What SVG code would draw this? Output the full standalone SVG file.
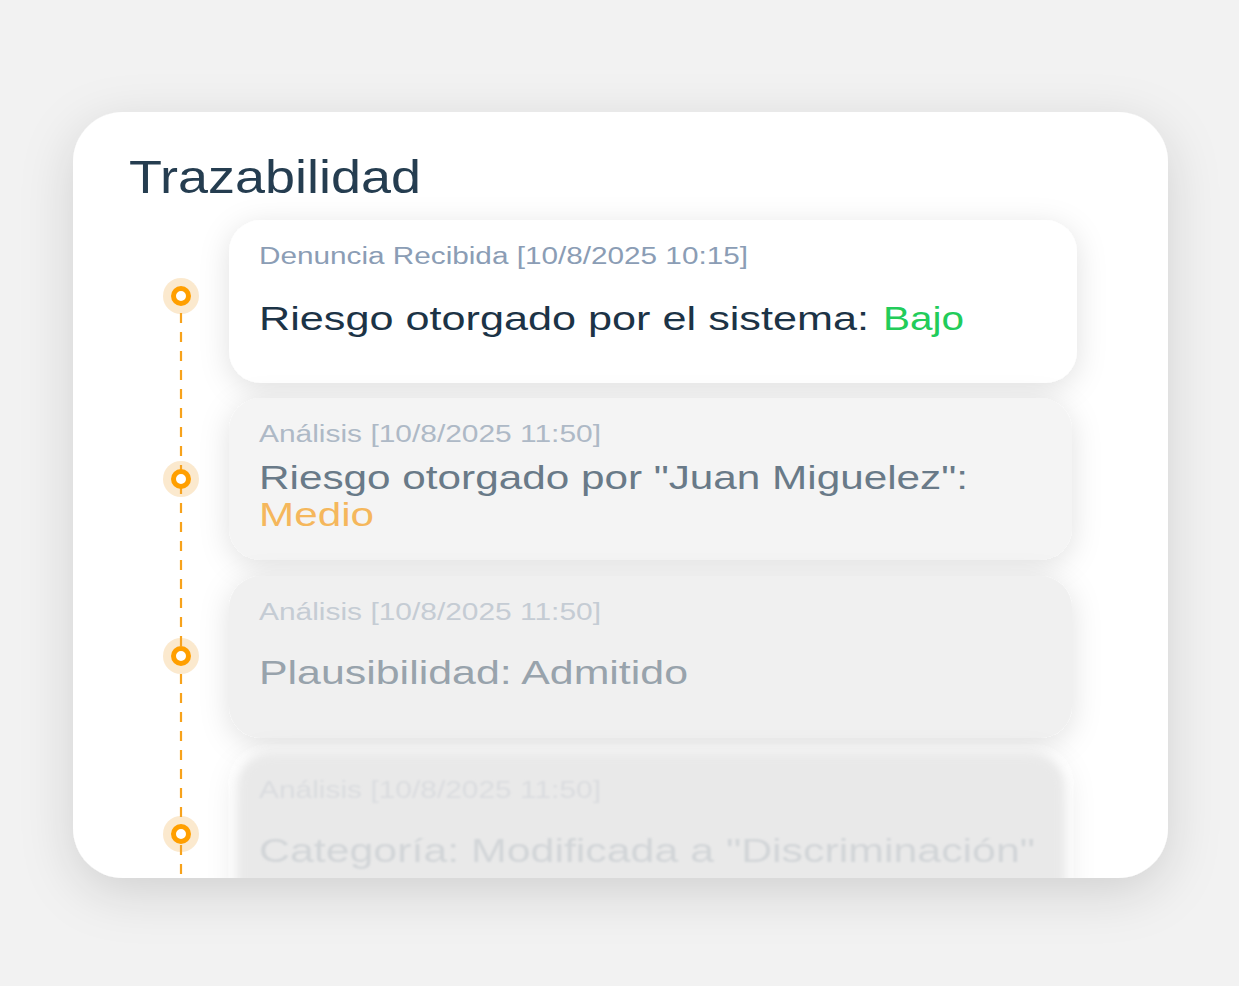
<svg xmlns="http://www.w3.org/2000/svg" width="1239" height="986" viewBox="0 0 1239 986">
  <style>
    .sans { font-family: "Liberation Sans", Arial, sans-serif; }
    .title { font-size: 46px; fill: #253d50; }
    .sub { font-size: 23px; }
    .main { font-size: 34px; }
  </style>
  <defs>
    <filter id="outerShadow" x="-20%" y="-20%" width="140%" height="150%">
      <feDropShadow dx="0" dy="14" stdDeviation="26" flood-color="#000" flood-opacity="0.14"/>
    </filter>
    <filter id="cardShadow" x="-15%" y="-40%" width="130%" height="190%">
      <feDropShadow dx="0" dy="6" stdDeviation="15" flood-color="#000" flood-opacity="0.12"/>
    </filter>
    <filter id="cardShadowBlur" x="-15%" y="-40%" width="130%" height="190%">
      <feGaussianBlur in="SourceGraphic" stdDeviation="4" result="b"/>
      <feDropShadow in="b" dx="0" dy="6" stdDeviation="15" flood-color="#000" flood-opacity="0.12"/>
    </filter>
    <filter id="textBlur" x="-5%" y="-50%" width="110%" height="200%">
      <feGaussianBlur stdDeviation="0.8"/>
    </filter>
    <clipPath id="panelClip">
      <rect x="73" y="112" width="1095" height="766" rx="50"/>
    </clipPath>
  </defs>

  <rect x="0" y="0" width="1239" height="986" fill="#f2f2f2"/>

  <g id="panel">
    <rect x="73" y="112" width="1095" height="766" rx="50" fill="#ffffff" filter="url(#outerShadow)"/>
    <text class="sans title" x="129" y="193" textLength="292" lengthAdjust="spacingAndGlyphs">Trazabilidad</text>
  </g>

  <g clip-path="url(#panelClip)">
    <g id="connectors">
      <line x1="181" y1="313" x2="181" y2="880" stroke="#f7a21b" stroke-width="2.2" stroke-dasharray="10 9"/>
    </g>

    <g id="card1">
      <rect x="229" y="220" width="848" height="163" rx="32" fill="#ffffff" filter="url(#cardShadow)"/>
      <text class="sans sub" x="259" y="264" fill="#8b9db5" textLength="489" lengthAdjust="spacingAndGlyphs">Denuncia Recibida [10/8/2025 10:15]</text>
      <text class="sans main" x="259" y="330" fill="#1c3346" textLength="610" lengthAdjust="spacingAndGlyphs">Riesgo otorgado por el sistema:</text>
      <text class="sans main" x="883" y="330" fill="#22cc5a" textLength="81" lengthAdjust="spacingAndGlyphs">Bajo</text>
    </g>

    <g id="card2">
      <rect x="229" y="398" width="843" height="162" rx="32" fill="#f4f4f4" filter="url(#cardShadow)"/>
      <text class="sans sub" x="259" y="442" fill="#aeb9c6" textLength="342" lengthAdjust="spacingAndGlyphs">Análisis [10/8/2025 11:50]</text>
      <text class="sans main" x="259" y="489" fill="#697a88" textLength="709" lengthAdjust="spacingAndGlyphs">Riesgo otorgado por "Juan Miguelez":</text>
      <text class="sans main" x="259" y="526" fill="#f5b75c" textLength="115" lengthAdjust="spacingAndGlyphs">Medio</text>
    </g>

    <g id="card3">
      <rect x="229" y="576" width="843" height="162" rx="32" fill="#f0f0f0" filter="url(#cardShadow)"/>
      <text class="sans sub" x="259" y="620" fill="#c5ccd4" textLength="342" lengthAdjust="spacingAndGlyphs">Análisis [10/8/2025 11:50]</text>
      <text class="sans main" x="259" y="684" fill="#98a3ac" textLength="429" lengthAdjust="spacingAndGlyphs">Plausibilidad: Admitido</text>
    </g>

    <g id="card4">
      <rect x="238" y="754" width="826" height="162" rx="32" fill="#e9e9e9" filter="url(#cardShadowBlur)"/>
      <g filter="url(#textBlur)">
        <text class="sans sub" x="259" y="798" fill="#dadcdf" textLength="342" lengthAdjust="spacingAndGlyphs">Análisis [10/8/2025 11:50]</text>
        <text class="sans main" x="259" y="862" fill="#d2d5d8" textLength="776" lengthAdjust="spacingAndGlyphs">Categoría: Modificada a "Discriminación"</text>
      </g>
    </g>

    <g id="dot1">
      <circle cx="181" cy="296" r="18" fill="#eea63a" fill-opacity="0.25"/>
      <circle cx="181" cy="296" r="7.5" fill="#ffffff" stroke="#ff9f00" stroke-width="5"/>
    </g>
    <g id="dot2">
      <circle cx="181" cy="479" r="18" fill="#eea63a" fill-opacity="0.25"/>
      <circle cx="181" cy="479" r="7.5" fill="#ffffff" stroke="#ff9f00" stroke-width="5"/>
    </g>
    <g id="dot3">
      <circle cx="181" cy="656" r="18" fill="#eea63a" fill-opacity="0.25"/>
      <circle cx="181" cy="656" r="7.5" fill="#ffffff" stroke="#ff9f00" stroke-width="5"/>
    </g>
    <g id="dot4">
      <circle cx="181" cy="834" r="18" fill="#eea63a" fill-opacity="0.25"/>
      <circle cx="181" cy="834" r="7.5" fill="#ffffff" stroke="#ff9f00" stroke-width="5"/>
    </g>
  </g>
</svg>
